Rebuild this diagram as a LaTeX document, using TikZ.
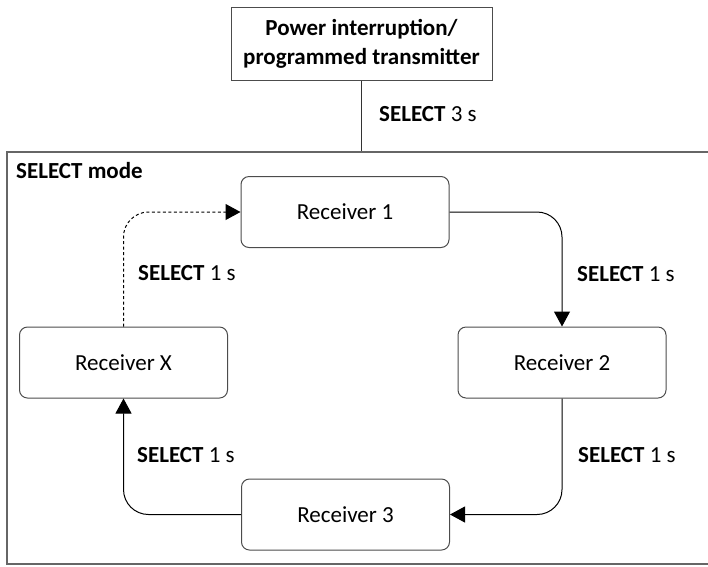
\documentclass[tikz,border=0pt]{standalone}
\usepackage{fontspec}
\setmainfont{Carlito}
\usetikzlibrary{arrows.meta}
\begin{document}
\begin{tikzpicture}[x=1pt,y=-1pt,
  every node/.style={font=\fontsize{23}{29}\selectfont, inner sep=0pt},
  rx/.style={draw=black!70, line width=1pt, rounded corners=8pt, minimum width=208pt, minimum height=71pt},
  conn/.style={line width=1pt, draw=black, rounded corners=25pt, -{Triangle[length=15pt,width=16pt]}},
  lbl/.style={anchor=west}]
\useasboundingbox (0,0) rectangle (708,566);
\node[draw=black!70, line width=1pt, minimum width=261pt, minimum height=73pt, align=center, font=\fontsize{23}{29}\bfseries\selectfont] (top) at (361.5,43.5) {Power interruption/\\programmed transmitter};
\node[draw=black!60, line width=1.5pt, minimum width=705pt, minimum height=412pt] (frame) at (359.5,358) {};
\draw[line width=1pt, black!80] (top.south) -- (top.south |- frame.north);
\node[lbl] (l0) at (379,114) {\textbf{SELECT} 3 s};
\node[lbl] (mode) at (16,171) {\textbf{SELECT mode}};
\node[rx] (r1) at (345,212) {Receiver 1};
\node[rx] (r2) at (562,362.5) {Receiver 2};
\node[rx] (rX) at (123.5,362.5) {Receiver X};
\node[rx] (r3) at (345.5,514.5) {Receiver 3};
\draw[conn] (r1.east) -| (r2.north);
\draw[conn] (r2.south) |- (r3.east);
\draw[conn] (r3.west) -| (rX.south);
\draw[conn, dashed, dash pattern=on 3pt off 2.5pt] (rX.north) |- (r1.west);
\node[lbl] (l1) at (577,274) {\textbf{SELECT} 1 s};
\node[lbl] (l2) at (578,455) {\textbf{SELECT} 1 s};
\node[lbl] (l3) at (137,455) {\textbf{SELECT} 1 s};
\node[lbl] (l4) at (138,273) {\textbf{SELECT} 1 s};
\end{tikzpicture}
\end{document}
